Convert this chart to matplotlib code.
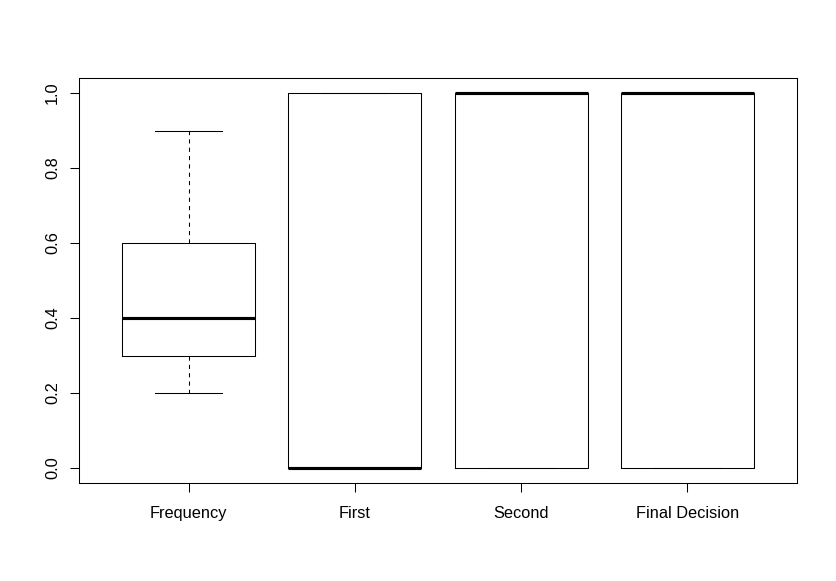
import matplotlib
matplotlib.use("Agg")
from matplotlib import pyplot as plt

# Box statistics (R-style boxplot)
labels = ["Frequency", "First", "Second", "Final Decision"]
whisker_low = [0.2, 0.0, 0.0, 0.0]
q1 = [0.3, 0.0, 0.0, 0.0]
median = [0.4, 0.0, 1.0, 1.0]
q3 = [0.6, 1.0, 1.0, 1.0]
whisker_high = [0.9, 1.0, 1.0, 1.0]

plt.rcParams["font.family"] = ["Liberation Sans", "DejaVu Sans"]

fig = plt.figure(figsize=(8.37, 5.81), dpi=100)
ax = fig.add_axes([79 / 837, 98 / 581, 718 / 837, 405 / 581])

stats = []
for i in range(len(labels)):
    stats.append(dict(label=labels[i], whislo=whisker_low[i], q1=q1[i],
                      med=median[i], q3=q3[i], whishi=whisker_high[i], fliers=[]))

ax.bxp(stats, positions=range(1, len(labels) + 1), widths=0.8,
       showfliers=False, capwidths=0.4,
       boxprops=dict(color="black", linewidth=0.75),
       whiskerprops=dict(color="black", linewidth=0.75, linestyle=(0, (4, 4))),
       capprops=dict(color="black", linewidth=0.75),
       medianprops=dict(color="black", linewidth=2.25, solid_capstyle="butt"))

ax.set_xlim(0.34, 4.66)
ax.set_ylim(-0.04, 1.04)
ax.set_yticks([0.0, 0.2, 0.4, 0.6, 0.8, 1.0])
ax.set_yticklabels(["0.0", "0.2", "0.4", "0.6", "0.8", "1.0"],
                   rotation=90, va="center")
ax.set_xticks(range(1, len(labels) + 1))
ax.set_xticklabels(labels)

ax.tick_params(axis="both", length=6.5, width=0.75, labelsize=11.8)
ax.tick_params(axis="x", pad=10)
ax.tick_params(axis="y", pad=7)
for spine in ax.spines.values():
    spine.set_linewidth(0.75)

fig.savefig("out.png", dpi=100)
